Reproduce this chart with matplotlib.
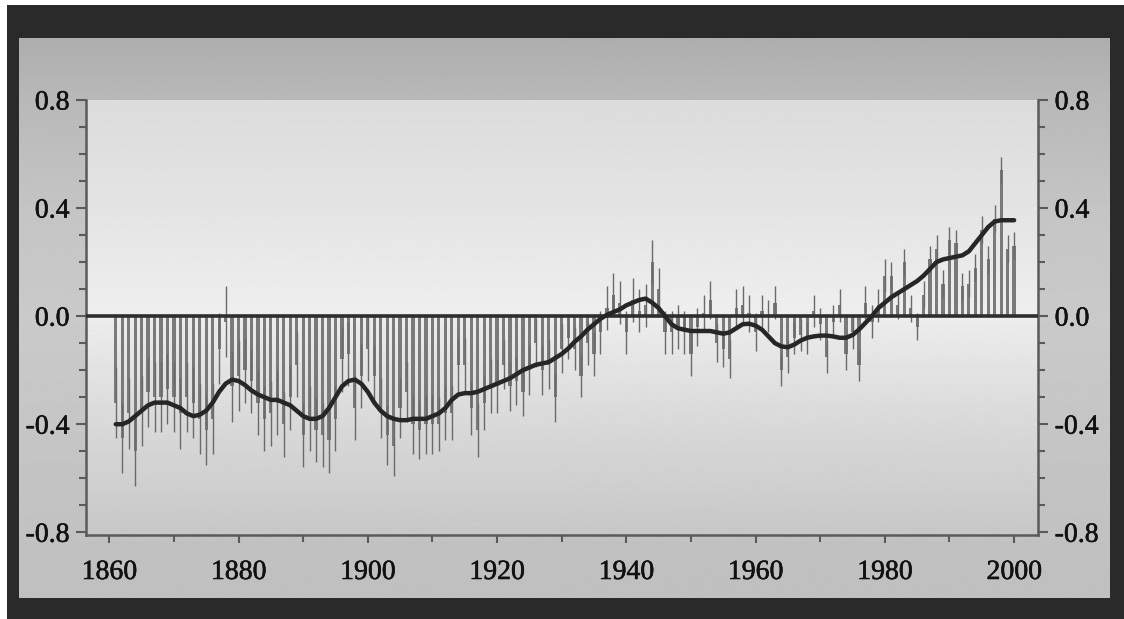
import numpy as np
import matplotlib
matplotlib.use("Agg")
import matplotlib.pyplot as plt
import matplotlib.patheffects as pe
from matplotlib.ticker import MultipleLocator

# 年份 1861-2000
years = np.arange(1861, 2001)

# 逐年距平 (柱)
anomaly = [
    -0.32, -0.45, -0.36, -0.50, -0.35, -0.28, -0.30, -0.30, -0.27, -0.30,   # 1861-1870
    -0.36, -0.30, -0.32, -0.38, -0.42, -0.38, -0.12, -0.02, -0.26, -0.22,   # 1871-1880
    -0.20, -0.24, -0.32, -0.38, -0.36, -0.32, -0.40, -0.30, -0.18, -0.44,   # 1881-1890
    -0.38, -0.42, -0.44, -0.46, -0.38, -0.16, -0.14, -0.34, -0.22, -0.12,   # 1891-1900
    -0.22, -0.34, -0.44, -0.48, -0.34, -0.28, -0.40, -0.42, -0.40, -0.40,   # 1901-1910
    -0.40, -0.36, -0.36, -0.18, -0.18, -0.34, -0.42, -0.32, -0.26, -0.26,   # 1911-1920
    -0.18, -0.26, -0.24, -0.28, -0.20, -0.10, -0.20, -0.18, -0.30, -0.12,   # 1921-1930
    -0.08, -0.12, -0.22, -0.10, -0.14, -0.06, 0.03, 0.08, 0.05, -0.06,      # 1931-1940
    0.06, 0.02, 0.04, 0.20, 0.10, -0.06, -0.06, -0.04, -0.06, -0.14,        # 1941-1950
    -0.04, 0.01, 0.06, -0.10, -0.12, -0.16, 0.03, 0.04, 0.01, -0.06,        # 1951-1960
    0.02, 0.00, 0.05, -0.20, -0.15, -0.08, -0.07, -0.08, 0.02, -0.03,       # 1961-1970
    -0.15, -0.02, 0.04, -0.14, -0.06, -0.18, 0.05, -0.02, 0.04, 0.15,       # 1971-1980
    0.15, 0.04, 0.20, 0.03, -0.04, 0.08, 0.21, 0.25, 0.12, 0.28,            # 1981-1990
    0.27, 0.11, 0.12, 0.18, 0.32, 0.21, 0.36, 0.54, 0.25, 0.26,             # 1991-2000
]

# 误差半宽 (每十年)
err_decade = [0.13, 0.13, 0.12, 0.12, 0.11, 0.10, 0.09, 0.08, 0.08, 0.07, 0.06, 0.06, 0.05, 0.05]
err = np.repeat(err_decade, 10)

# 平滑曲线
smooth = [
    -0.40, -0.40, -0.39, -0.37, -0.35, -0.33, -0.32, -0.32, -0.32, -0.33,   # 1861-1870
    -0.34, -0.36, -0.37, -0.365, -0.35, -0.32, -0.28, -0.25, -0.235, -0.24, # 1871-1880
    -0.255, -0.275, -0.29, -0.30, -0.31, -0.31, -0.32, -0.33, -0.35, -0.37, # 1881-1890
    -0.38, -0.38, -0.37, -0.34, -0.30, -0.26, -0.24, -0.235, -0.25, -0.28,  # 1891-1900
    -0.32, -0.35, -0.37, -0.38, -0.385, -0.385, -0.38, -0.38, -0.38, -0.37, # 1901-1910
    -0.36, -0.34, -0.31, -0.29, -0.285, -0.285, -0.28, -0.27, -0.26, -0.25, # 1911-1920
    -0.24, -0.23, -0.215, -0.20, -0.19, -0.18, -0.175, -0.17, -0.155, -0.14, # 1921-1930
    -0.12, -0.095, -0.075, -0.05, -0.03, -0.01, 0.005, 0.015, 0.025, 0.04,  # 1931-1940
    0.05, 0.06, 0.065, 0.05, 0.03, 0.0, -0.03, -0.045, -0.05, -0.055,       # 1941-1950
    -0.055, -0.055, -0.055, -0.06, -0.065, -0.06, -0.045, -0.03, -0.028, -0.035, # 1951-1960
    -0.05, -0.075, -0.10, -0.112, -0.115, -0.105, -0.09, -0.08, -0.075, -0.072,  # 1961-1970
    -0.072, -0.075, -0.08, -0.08, -0.07, -0.05, -0.025, 0.0, 0.03, 0.05,    # 1971-1980
    0.07, 0.085, 0.10, 0.115, 0.13, 0.15, 0.175, 0.20, 0.21, 0.215,         # 1981-1990
    0.22, 0.225, 0.24, 0.27, 0.30, 0.33, 0.35, 0.355, 0.355, 0.355,         # 1991-2000
]

y_ticks = [-0.8, -0.4, 0.0, 0.4, 0.8]
x_ticks = [1860, 1880, 1900, 1920, 1940, 1960, 1980, 2000]

W, H = 1124, 619
fig = plt.figure(figsize=(W / 100, H / 100), dpi=100)
fig.patch.set_facecolor("white")

# 深色外框
frame = fig.add_axes([7 / W, 0, 1 - 7 / W, 1 - 5 / H])
frame.set_facecolor("#2a2a2a")
frame.set_xticks([])
frame.set_yticks([])
for s in frame.spines.values():
    s.set_visible(False)

# 灰色面板 (渐变)
panel = fig.add_axes([19 / W, (H - 598) / H, (1110 - 19) / W, (598 - 38) / H])
g = np.interp(np.linspace(0, 1, 300), [0, 0.1, 0.3, 0.5, 1.0], [0.68, 0.72, 0.77, 0.79, 0.75])
panel.imshow(g[:, None], cmap="gray", vmin=0, vmax=1, aspect="auto", extent=[0, 1, 0, 1])
panel.set_axis_off()

# 主图
ax = fig.add_axes([86 / W, (H - 535) / H, (1038 - 86) / W, (535 - 100) / H])

bg = np.interp(np.linspace(0, 1, 400), [0, 0.25, 0.5, 0.52, 0.75, 1.0],
               [0.86, 0.895, 0.935, 0.92, 0.85, 0.78])
ax.imshow(bg[:, None], cmap="gray", vmin=0, vmax=1, aspect="auto",
          extent=[1856.4, 2003.7, -0.81, 0.8], zorder=0)
ax.set_xlim(1856.4, 2003.7)
ax.set_ylim(-0.81, 0.8)

ax.bar(years, anomaly, width=0.5, color="#7a7a7a", zorder=2)
ax.errorbar(years, anomaly, yerr=err, fmt="none", ecolor="#6a6a6a", elinewidth=1.0, capsize=0, zorder=2)
ax.axhline(0, color="#2e2e2e", lw=2.6, zorder=3)
ax.plot(years, smooth, color="#262626", lw=3.2, zorder=4, solid_capstyle="round")

for side in ["left", "right", "bottom"]:
    ax.spines[side].set_color("#5a5a5a")
    ax.spines[side].set_linewidth(1.8)
ax.spines["top"].set_visible(False)

ax.set_xticks(x_ticks)
ax.xaxis.set_minor_locator(MultipleLocator(10))
ax.set_yticks(y_ticks)
ax.set_yticklabels(["-0.8", "-0.4", "0.0", "0.4", "0.8"])
ax.yaxis.set_minor_locator(MultipleLocator(0.1))
ax.tick_params(axis="both", which="both", direction="out", color="#5a5a5a", width=1.5)
ax.tick_params(axis="y", which="major", length=7, pad=5, left=True, right=True,
               labelleft=True, labelright=True)
ax.tick_params(axis="y", which="minor", length=5, left=True, right=True)
ax.tick_params(axis="x", which="major", length=6, pad=12)
ax.tick_params(axis="x", which="minor", length=5)

# 字体稍微加粗, 接近原图
thick = [pe.withStroke(linewidth=0.4, foreground="#111111")]
labels = list(ax.get_xticklabels())
for t in ax.yaxis.get_major_ticks():
    labels += [t.label1, t.label2]
for lab in labels:
    lab.set_fontfamily("Liberation Serif")
    lab.set_fontsize(20)
    lab.set_color("#111111")
    lab.set_path_effects(thick)

fig.savefig("out.png", dpi=100, facecolor=fig.get_facecolor())
